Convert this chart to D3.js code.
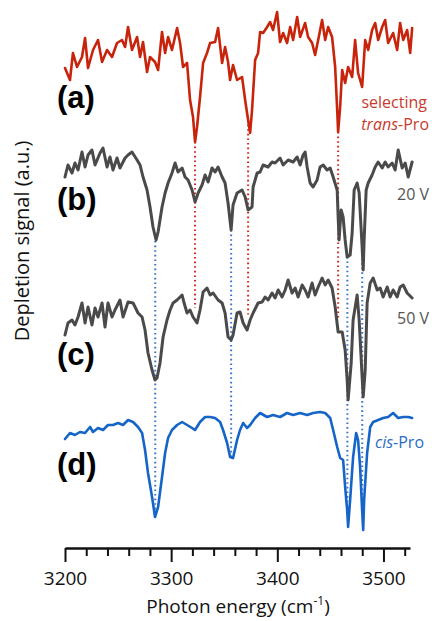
<!DOCTYPE html>
<html>
<head>
<meta charset="utf-8">
<script src="https://cdn.jsdelivr.net/npm/d3@7"></script>
<style>
  html, body { margin: 0; padding: 0; background: #fff; }
  svg { display: block; }
</style>
</head>
<body>
<svg id="chart" width="432" height="621"></svg>
<script>
// Photon energy (cm^-1) and depletion signal (a.u.) for each spectrum.
const transSelect = [
  [3200,0.80],[3204.7,0.68],[3207.5,0.95],[3211.3,0.81],[3216,0.91],[3218.9,1.10],[3221.7,0.80],
  [3226.4,0.98],[3231.1,1.08],[3234.9,0.86],[3239.6,0.98],[3244.3,0.91],[3249,1.05],[3253.7,1.08],
  [3256.6,1.01],[3259.4,1.21],[3263.1,0.98],[3267.9,1.11],[3270.7,0.91],[3273.5,1.06],[3277.3,0.76],
  [3280.1,0.91],[3284.8,0.86],[3287.7,0.78],[3291.4,1.16],[3294.3,0.95],[3297.1,1.11],[3300.8,0.98],
  [3305.6,1.20],[3308.4,1.05],[3311.2,0.81],[3315,0.85],[3317.8,0.48],[3320.6,0.31],[3322.5,0.06],
  [3324.4,0.21],[3327.2,0.51],[3330.1,0.85],[3333.8,0.95],[3336.7,1.05],[3341.4,1.06],[3344.2,1.20],
  [3348,0.85],[3350.8,1.01],[3353.6,0.86],[3355.5,0.68],[3358.3,0.83],[3362.1,0.68],[3366.8,0.71],
  [3369.7,0.48],[3372.5,0.28],[3374.4,0.15],[3376.2,0.38],[3379.1,0.88],[3381.9,0.95],[3383.8,1.16],
  [3386.6,1.15],[3390.4,1.21],[3393.2,1.26],[3396,1.18],[3399.8,1.36],[3402.6,1.06],[3405.5,1.15],
  [3409.2,1.05],[3412.1,1.21],[3414.9,1.08],[3418.7,1.31],[3421.5,1.11],[3426.2,1.25],[3429,1.11],
  [3432.8,1.05],[3435.6,0.93],[3438.5,1.08],[3442.2,1.28],[3445.1,1.08],[3447.9,1.21],[3451.6,1.11],
  [3454.5,0.81],[3456.4,0.38],[3457.3,0.16],[3459.2,0.41],[3461.1,0.78],[3463.9,0.65],[3466.7,0.81],
  [3470.5,0.71],[3473.3,1.08],[3476.1,0.75],[3479.9,0.61],[3482.8,1.08],[3485.6,0.98],[3489.3,1.18],
  [3492.2,1.25],[3495,1.08],[3498.8,1.21],[3501.6,1.28],[3504.4,1.05],[3509.1,1.15],[3512.9,0.98],
  [3515.7,1.25],[3518.6,1.08],[3522.3,1.18],[3525.2,0.95],[3527,1.20]
];

const depletion20V = [
  [3200,1.01],[3202.8,1.13],[3206.6,1.05],[3209.4,1.15],[3212.3,1.08],[3216,1.26],[3218.9,1.11],
  [3221.7,1.23],[3225.4,1.28],[3228.3,1.13],[3233,1.25],[3235.8,1.30],[3239.6,1.11],[3242.4,1.21],
  [3245.2,1.08],[3249,1.20],[3251.8,1.10],[3256.6,1.20],[3259.4,1.23],[3263.1,1.26],[3267.9,1.18],
  [3270.7,1.13],[3273.5,1.01],[3277.3,0.88],[3280.1,0.71],[3282.9,0.51],[3285.8,0.38],[3287.7,0.46],
  [3291.4,0.71],[3294.3,0.85],[3297.1,0.95],[3300.8,1.05],[3303.7,1.15],[3306.5,1.06],[3310.3,1.10],
  [3313.1,1.01],[3315.9,0.98],[3319.7,0.88],[3322.5,0.76],[3325.4,0.85],[3329.1,0.93],[3332,1.03],
  [3334.8,0.96],[3338.5,1.10],[3341.4,1.06],[3344.2,1.11],[3348,1.01],[3350.8,0.95],[3353.6,0.75],
  [3356.5,0.48],[3358.3,0.73],[3362.1,0.85],[3366.8,0.88],[3369.7,0.81],[3372.5,0.68],[3376.2,0.71],
  [3377.2,0.91],[3381,1.05],[3383.8,1.06],[3386.6,1.13],[3391.3,1.11],[3395.1,1.16],[3397.9,1.15],
  [3402.6,1.20],[3405.5,1.13],[3410.2,1.18],[3414.9,1.16],[3418.7,1.21],[3421.5,1.13],[3424.3,1.23],
  [3426.2,1.26],[3428.1,1.11],[3430.9,0.95],[3433.7,0.91],[3437.5,0.98],[3440.3,1.11],[3443.2,1.13],
  [3446.9,1.08],[3449.8,1.10],[3452.6,1.01],[3456.4,0.88],[3457.3,0.61],[3458.2,0.38],[3460.1,0.68],
  [3462,0.61],[3463.9,0.38],[3465.8,0.21],[3468.6,0.23],[3470.5,0.45],[3472.4,0.88],[3475.2,0.95],
  [3477.1,0.85],[3479.9,0.31],[3480.9,0.08],[3481.8,0.38],[3483.7,0.88],[3485.6,0.95],[3489.3,1.03],
  [3492.2,1.11],[3495,1.16],[3498.8,1.10],[3501.6,1.16],[3504.4,1.11],[3508.2,1.15],[3511,1.08],
  [3513.9,1.28],[3517.6,1.10],[3520.5,1.15],[3523.3,1.01],[3527,1.16]
];

const depletion50V = [
  [3200,0.73],[3202.8,0.85],[3206.6,0.88],[3209.4,0.83],[3212.3,0.91],[3216,1.05],[3218.9,0.85],
  [3221.7,1.01],[3225.4,0.83],[3228.3,1.00],[3231.1,0.91],[3234.9,1.05],[3237.7,0.81],[3240.5,1.05],
  [3244.3,0.91],[3247.1,0.98],[3251.8,1.08],[3254.7,0.91],[3259.4,1.06],[3264.1,1.05],[3268.8,0.95],
  [3272.6,0.91],[3275.4,0.78],[3278.2,0.55],[3282,0.38],[3284.8,0.28],[3286.7,0.30],[3289.5,0.45],
  [3292.4,0.71],[3296.1,0.88],[3299,0.98],[3301.8,1.05],[3305.6,1.08],[3310.3,1.13],[3312.2,1.05],
  [3315,0.95],[3317.8,0.98],[3320.6,0.91],[3324.4,0.85],[3327.2,0.98],[3330.1,1.16],[3333.8,1.20],
  [3336.7,1.13],[3339.5,1.15],[3344.2,1.08],[3348,1.05],[3350.8,0.95],[3353.6,0.71],[3356.5,0.68],
  [3358.3,0.73],[3362.1,0.95],[3364.9,0.96],[3367.8,0.85],[3371.5,0.78],[3374.4,0.88],[3377.2,0.95],
  [3381.9,1.05],[3385.7,1.06],[3388.5,1.11],[3391.3,1.08],[3395.1,1.15],[3397.9,1.10],[3400.8,1.18],
  [3404.5,1.11],[3407.4,1.18],[3410.2,1.28],[3413.9,1.15],[3416.8,1.20],[3419.6,1.11],[3423.4,1.23],
  [3426.2,1.18],[3429,1.11],[3432.8,1.25],[3435.6,1.13],[3438.5,1.21],[3442.2,1.30],[3445.1,1.23],
  [3447.9,1.28],[3451.6,1.20],[3454.5,1.01],[3457.3,0.76],[3461.1,0.76],[3463.9,0.58],[3465.8,0.28],
  [3466.7,0.08],[3469.6,0.45],[3471.4,0.88],[3475.2,1.13],[3477.1,0.88],[3479.9,0.31],[3480.9,0.11],
  [3482.8,0.38],[3484.6,1.05],[3487.5,1.25],[3490.3,1.30],[3494.1,1.18],[3496.9,1.20],[3499.7,1.11],
  [3503.5,1.21],[3506.3,1.11],[3509.1,1.18],[3512.9,1.11],[3515.7,1.21],[3518.6,1.23],[3522.3,1.15],
  [3527,1.10]
];

const cisSelect = [
  [3200,0.99],[3204.7,1.05],[3209.4,1.03],[3214.1,1.06],[3218.9,1.05],[3223.6,1.11],[3226.4,1.06],
  [3231.1,1.10],[3235.8,1.08],[3240.5,1.13],[3245.2,1.13],[3250,1.15],[3254.7,1.13],[3259.4,1.18],
  [3264.1,1.16],[3268.8,1.11],[3272.6,1.05],[3275.4,0.88],[3278.2,0.65],[3282,0.41],[3284.8,0.21],
  [3287.7,0.31],[3291.4,0.61],[3294.3,0.85],[3297.1,1.00],[3300.8,1.08],[3305.6,1.13],[3310.3,1.16],
  [3315,1.13],[3319.7,1.10],[3322.5,1.08],[3327.2,1.16],[3332,1.21],[3336.7,1.21],[3341.4,1.20],
  [3346.1,1.16],[3348.9,1.08],[3352.7,0.95],[3355.5,0.81],[3358.3,0.80],[3362.1,0.98],[3364.9,1.08],
  [3367.8,1.15],[3371.5,1.10],[3374.4,1.13],[3379.1,1.20],[3383.8,1.25],[3390.4,1.21],[3396,1.23],
  [3402.6,1.21],[3409.2,1.25],[3414.9,1.23],[3421.5,1.25],[3428.1,1.23],[3433.7,1.25],[3440.3,1.26],
  [3445.1,1.25],[3449.8,1.20],[3452.6,1.08],[3456.4,0.91],[3459.2,0.80],[3462,0.78],[3463.9,0.51],
  [3465.8,0.28],[3466.7,0.11],[3468.6,0.38],[3471.4,0.81],[3474.3,1.05],[3476.1,0.98],[3478,0.71],
  [3479.9,0.28],[3480.9,0.08],[3481.8,0.38],[3484.6,0.85],[3487.5,1.11],[3490.3,1.16],[3495,1.18],
  [3499.7,1.20],[3504.4,1.21],[3509.1,1.25],[3513.9,1.20],[3518.6,1.21],[3523.3,1.21],[3527,1.20]
];

// Band positions (cm^-1) marked by the dotted guides
const transBands = [3322.5, 3372.5, 3457.3];
const cisBands = [3285, 3356.5, 3466, 3480];

// Axis ticks
const majorTicks = [3200, 3300, 3400, 3500];
const minorTicks = [3220, 3240, 3260, 3280, 3320, 3340, 3360, 3380, 3420, 3440, 3460, 3480, 3520];

// Panel texts
const panelLetters = ["(a)", "(b)", "(c)", "(d)"];

const svg = d3.select("#chart");

const x = d3.scaleLinear().domain([3200, 3525]).range([65, 410]);
const y = d3.scaleLinear().domain([0, 5.48]).range([548, 0]);

// Each spectrum is stacked with its own vertical offset
const traces = [
  { data: transSelect,  offset: 4.0, color: "#c8240c", width: 2.6 },
  { data: depletion20V, offset: 2.7, color: "#4a4a4a", width: 3.0 },
  { data: depletion50V, offset: 1.4, color: "#4a4a4a", width: 3.0 },
  { data: cisSelect,    offset: 0.1, color: "#1565c8", width: 2.6 }
];

function valueAt(data, wn) {
  const i = d3.bisector(d => d[0]).left(data, wn);
  if (i <= 0) return data[0][1];
  if (i >= data.length) return data[data.length - 1][1];
  const a = data[i - 1], b = data[i];
  const t = (wn - a[0]) / (b[0] - a[0]);
  return a[1] + t * (b[1] - a[1]);
}
const yOf = (tr, wn) => y(valueAt(tr.data, wn) + tr.offset);

// Dotted guides: trans bands run from (a) down to (c); cis bands from (b) down to (d)
const guides = svg.append("g");
transBands.forEach(wn => {
  guides.append("line")
    .attr("x1", x(wn)).attr("x2", x(wn))
    .attr("y1", yOf(traces[0], wn))
    .attr("y2", yOf(traces[2], wn) - 12)
    .attr("stroke", "#d2281e")
    .attr("stroke-width", 2)
    .attr("stroke-dasharray", "1.6,3");
});
cisBands.forEach(wn => {
  guides.append("line")
    .attr("x1", x(wn)).attr("x2", x(wn))
    .attr("y1", yOf(traces[1], wn))
    .attr("y2", yOf(traces[3], wn))
    .attr("stroke", "#3a72d0")
    .attr("stroke-width", 2)
    .attr("stroke-dasharray", "1.6,3");
});

// Spectra
traces.forEach(tr => {
  const line = d3.line()
    .x(d => x(d[0]))
    .y(d => y(d[1] + tr.offset));
  svg.append("path")
    .datum(tr.data)
    .attr("d", line)
    .attr("fill", "none")
    .attr("stroke", tr.color)
    .attr("stroke-width", tr.width)
    .attr("stroke-linejoin", "round")
    .attr("stroke-linecap", "round");
});

// Panel letters
const letterBaselines = [108, 210, 365, 475];
panelLetters.forEach((t, i) => {
  svg.append("text")
    .attr("x", 57)
    .attr("y", letterBaselines[i])
    .attr("font-family", "Liberation Sans, Arial, sans-serif")
    .attr("font-weight", "bold")
    .attr("font-size", 31)
    .attr("fill", "#000")
    .text(t);
});

// Right-hand annotations
const note = (xp, yp, color) => svg.append("text")
  .attr("x", xp).attr("y", yp)
  .attr("text-anchor", "end")
  .attr("font-family", "Open Sans, sans-serif")
  .attr("font-size", 16)
  .attr("fill", color);

note(427, 108, "#c83a2c").text("selecting");
const tp = note(429, 130, "#c83a2c");
tp.append("tspan").attr("font-style", "italic").text("trans");
tp.append("tspan").text("-Pro");
note(429, 200, "#555").text("20 V");
note(429, 324, "#555").text("50 V");
const cp = note(424, 448, "#2a6cc8");
cp.append("tspan").attr("font-style", "italic").text("cis");
cp.append("tspan").text("-Pro");

// X axis with major and minor ticks
const axisG = svg.append("g").attr("transform", "translate(0,548)");
axisG.append("g")
  .call(d3.axisBottom(x).tickValues(minorTicks).tickSize(8).tickSizeOuter(0).tickFormat(""))
  .call(g => g.select(".domain").remove())
  .call(g => g.selectAll("line").attr("stroke", "#111").attr("stroke-width", 2));
const major = axisG.append("g")
  .call(d3.axisBottom(x).tickValues(majorTicks).tickSize(14).tickSizeOuter(0).tickFormat(d3.format("d")));
major.select(".domain").attr("stroke", "#111").attr("stroke-width", 2.6);
major.selectAll(".tick line").attr("stroke", "#111").attr("stroke-width", 2);
major.selectAll(".tick text")
  .attr("y", 37).attr("dy", 0)
  .attr("font-family", "Open Sans, sans-serif")
  .attr("font-size", 19)
  .attr("fill", "#111");

// Axis titles
const xt = svg.append("text")
  .attr("x", 238).attr("y", 613)
  .attr("text-anchor", "middle")
  .attr("font-family", "Open Sans, sans-serif")
  .attr("font-size", 19)
  .attr("fill", "#111");
xt.append("tspan").text("Photon energy (cm");
xt.append("tspan").attr("font-size", 12).attr("dy", -8).text("-1");
xt.append("tspan").attr("dy", 8).text(")");

svg.append("text")
  .attr("transform", "translate(29,241) rotate(-90)")
  .attr("text-anchor", "middle")
  .attr("font-family", "Open Sans, sans-serif")
  .attr("font-size", 20)
  .attr("fill", "#111")
  .text("Depletion signal (a.u.)");
</script>
</body>
</html>
